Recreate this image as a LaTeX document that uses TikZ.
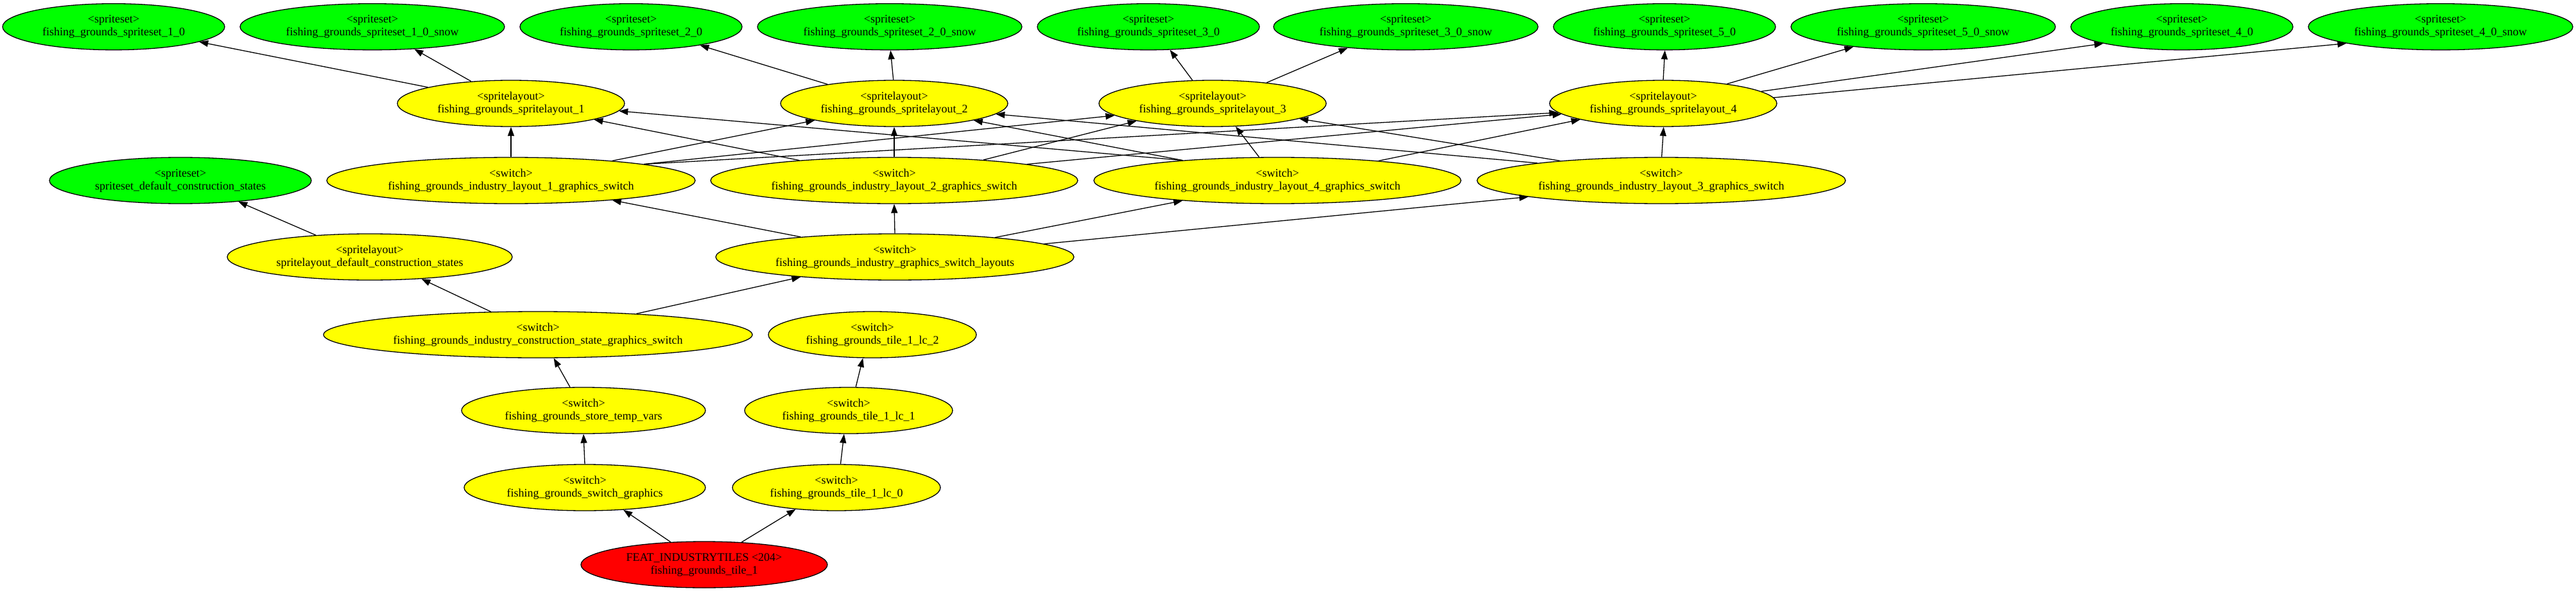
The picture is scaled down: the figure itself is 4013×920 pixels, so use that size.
\documentclass[tikz,border=0pt]{standalone}
\usepackage{fontspec}
\setmainfont{Liberation Serif}
\usetikzlibrary{shapes.geometric,arrows.meta}
\definecolor{gvgreen}{RGB}{0,255,0}
\definecolor{gvyellow}{RGB}{255,255,0}
\definecolor{gvred}{RGB}{255,0,0}
\begin{document}
\begin{tikzpicture}[x=1pt,y=-1pt,
  base/.style={ellipse, draw=black, line width=1.3pt, inner sep=0pt, minimum height=72pt,
    align=center, font=\fontsize{18}{20}\selectfont},
  gn/.style={base, fill=gvgreen},
  yn/.style={base, fill=gvyellow},
  rn/.style={base, fill=gvred},
  conn/.style={line width=1.3pt, -{Triangle[length=14pt,width=10pt]}}
]
\useasboundingbox (0,0) rectangle (4013,920);
% row 0: spritesets
\node[gn, minimum width=346pt] (ss10)  at (177,41.7)  {<spriteset>\\fishing\_grounds\_spriteset\_1\_0};
\node[gn, minimum width=412pt] (ss10s) at (580,41.7)  {<spriteset>\\fishing\_grounds\_spriteset\_1\_0\_snow};
\node[gn, minimum width=346pt] (ss20)  at (983,41.7)  {<spriteset>\\fishing\_grounds\_spriteset\_2\_0};
\node[gn, minimum width=412pt] (ss20s) at (1386,41.7) {<spriteset>\\fishing\_grounds\_spriteset\_2\_0\_snow};
\node[gn, minimum width=346pt] (ss30)  at (1789,41.7) {<spriteset>\\fishing\_grounds\_spriteset\_3\_0};
\node[gn, minimum width=412pt] (ss30s) at (2190,41.7) {<spriteset>\\fishing\_grounds\_spriteset\_3\_0\_snow};
\node[gn, minimum width=346pt] (ss50)  at (2593,41.7) {<spriteset>\\fishing\_grounds\_spriteset\_5\_0};
\node[gn, minimum width=412pt] (ss50s) at (2996,41.7) {<spriteset>\\fishing\_grounds\_spriteset\_5\_0\_snow};
\node[gn, minimum width=346pt] (ss40)  at (3399,41.7) {<spriteset>\\fishing\_grounds\_spriteset\_4\_0};
\node[gn, minimum width=412pt] (ss40s) at (3802,41.7) {<spriteset>\\fishing\_grounds\_spriteset\_4\_0\_snow};
% row 1: spritelayouts
\node[yn, minimum width=354pt] (sl1) at (796,161)  {<spritelayout>\\fishing\_grounds\_spritelayout\_1};
\node[yn, minimum width=354pt] (sl2) at (1393,161) {<spritelayout>\\fishing\_grounds\_spritelayout\_2};
\node[yn, minimum width=354pt] (sl3) at (1889,161) {<spritelayout>\\fishing\_grounds\_spritelayout\_3};
\node[yn, minimum width=354pt] (sl4) at (2591,161) {<spritelayout>\\fishing\_grounds\_spritelayout\_4};
% row 2
\node[gn, minimum width=408pt] (ssdef) at (281,281) {<spriteset>\\spriteset\_default\_construction\_states};
\node[yn, minimum width=574pt] (sw1) at (796,281)  {<switch>\\fishing\_grounds\_industry\_layout\_1\_graphics\_switch};
\node[yn, minimum width=572pt] (sw2) at (1393,281) {<switch>\\fishing\_grounds\_industry\_layout\_2\_graphics\_switch};
\node[yn, minimum width=572pt] (sw4) at (1990,281) {<switch>\\fishing\_grounds\_industry\_layout\_4\_graphics\_switch};
\node[yn, minimum width=574pt] (sw3) at (2588,281) {<switch>\\fishing\_grounds\_industry\_layout\_3\_graphics\_switch};
% row 3
\node[yn, minimum width=444pt] (sldef) at (576,400) {<spritelayout>\\spritelayout\_default\_construction\_states};
\node[yn, minimum width=558pt] (swl) at (1394,400) {<switch>\\fishing\_grounds\_industry\_graphics\_switch\_layouts};
% row 4
\node[yn, minimum width=668pt] (cs) at (838,521) {<switch>\\fishing\_grounds\_industry\_construction\_state\_graphics\_switch};
\node[yn, minimum width=324pt] (lc2) at (1359,521) {<switch>\\fishing\_grounds\_tile\_1\_lc\_2};
% row 5
\node[yn, minimum width=380pt] (stv) at (909,639) {<switch>\\fishing\_grounds\_store\_temp\_vars};
\node[yn, minimum width=324pt] (lc1) at (1322,639) {<switch>\\fishing\_grounds\_tile\_1\_lc\_1};
% row 6
\node[yn, minimum width=376pt] (sg) at (911,759) {<switch>\\fishing\_grounds\_switch\_graphics};
\node[yn, minimum width=324pt] (lc0) at (1303,759) {<switch>\\fishing\_grounds\_tile\_1\_lc\_0};
% row 7
\node[rn, minimum width=384pt] (t1) at (1097,879) {FEAT\_INDUSTRYTILES <204>\\fishing\_grounds\_tile\_1};
% edges: spritelayouts -> spritesets
\draw[conn] (sl1.169) -- (ss10.-10);
\draw[conn] (sl1.151) -- (ss10s.-28);
\draw[conn] (sl2.164) -- (ss20.-15);
\draw[conn] (sl2.92) -- (ss20s.-88);
\draw[conn] (sl3.131.5) -- (ss30.-47.8);
\draw[conn] (sl3.21.6) -- (ss30s.-160);
\draw[conn] (sl4.90) -- (ss50.-89);
\draw[conn] (sl4.17.4) -- (ss50s.-164.5);
\draw[conn] (sl4.7.1) -- (ss40.-168.6);
\draw[conn] (sl4.3.7) -- (ss40s.-170.7);
% switches -> spritelayouts
\draw[conn] (sw1.90) -- (sl1.-90);
\draw[conn] (sw1.11.9) -- (sl2.-168.5);
\draw[conn] (sw1.7.65) -- (sl3.-173.3);
\draw[conn] (sw1.7.65) -- (sl4.-175.4);
\draw[conn] (sw2.168) -- (sl1.-11.6);
\draw[conn] (sw2.90) -- (sl2.-90);
\draw[conn] (sw2.13.7) -- (sl3.-167.4);
\draw[conn] (sw2.7.2) -- (sl4.-174.6);
\draw[conn] (sw4.168.2) -- (sl1.-4.9);
\draw[conn] (sw4.168.2) -- (sl2.-12.2);
\draw[conn] (sw4.128.9) -- (sl3.-45.9);
\draw[conn] (sw4.11.7) -- (sl4.-169.4);
\draw[conn] (sw3.172.6) -- (sl2.-6.9);
\draw[conn] (sw3.169.9) -- (sl3.-10.3);
\draw[conn] (sw3.89.5) -- (sl4.-89.5);
% lower part
\draw[conn] (sldef.158.1) -- (ssdef.-20.1);
\draw[conn] (cs.154.9) -- (sldef.-23.1);
\draw[conn] (cs.12.4) -- (swl.-168.2);
\draw[conn] (swl.168.5) -- (sw1.-11.1);
\draw[conn] (swl.90) -- (sw2.-90);
\draw[conn] (swl.11.6) -- (sw4.-168.6);
\draw[conn] (swl.5.15) -- (sw3.-173.4);
\draw[conn] (stv.120.3) -- (cs.-56.3);
\draw[conn] (sg.90) -- (stv.-90);
\draw[conn] (lc1.73) -- (lc2.-112.4);
\draw[conn] (lc0.80.5) -- (lc1.-101);
\draw[conn] (t1.146.3) -- (sg.-30.8);
\draw[conn] (t1.31) -- (lc0.-152);
\end{tikzpicture}
\end{document}
